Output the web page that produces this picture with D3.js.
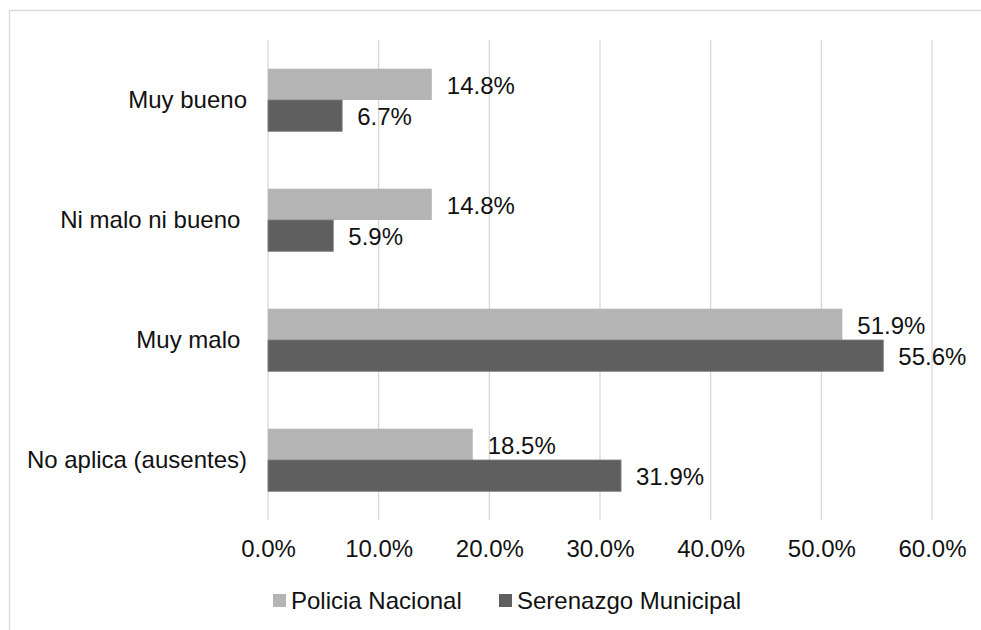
<!DOCTYPE html>
<html>
<head>
<meta charset="utf-8">
<script src="https://cdn.jsdelivr.net/npm/d3@7"></script>
<style>
  html, body { margin: 0; padding: 0; background: #fff; }
  svg { display: block; }
  text { font-family: "Liberation Sans", Arial, sans-serif; fill: #111; }
</style>
</head>
<body>
<svg id="chart" width="981" height="630"></svg>
<script>
const categories = ["Muy bueno", "Ni malo ni bueno ", "Muy malo ", "No aplica (ausentes)"];
const seriesNames = ["Policia Nacional", "Serenazgo Municipal"];
const policiaValues = [14.8, 14.8, 51.9, 18.5];
const serenazgoValues = [6.7, 5.9, 55.6, 31.9];
const tickValues = [0, 10, 20, 30, 40, 50, 60];
const colors = ["#b4b4b4", "#5f5f5f"];

const seriesValues = [policiaValues, serenazgoValues];
const data = categories.map((c, i) => ({ cat: c, vals: seriesValues.map(s => s[i]) }));

const svg = d3.select("#chart");
const W = 981, H = 630;
const plotLeft = 268, plotRight = 932, plotTop = 40, plotBottom = 520;

// frame (left & top lines)
svg.append("line").attr("x1", 9.5).attr("x2", 9.5).attr("y1", 10).attr("y2", H)
  .attr("stroke", "#d9d9d9").attr("stroke-width", 1.3);
svg.append("line").attr("x1", 9).attr("x2", W).attr("y1", 10.5).attr("y2", 10.5)
  .attr("stroke", "#d9d9d9").attr("stroke-width", 1.3);

const x = d3.scaleLinear().domain([0, 60]).range([plotLeft, plotRight]);
const y = d3.scaleBand().domain(categories).range([plotTop, plotBottom])
  .paddingInner(0.478).paddingOuter(0.239);
const ySub = d3.scaleBand().domain(d3.range(seriesNames.length)).range([0, y.bandwidth()]).padding(0);

// gridlines
svg.append("g").selectAll("line").data(tickValues).join("line")
  .attr("x1", d => x(d)).attr("x2", d => x(d))
  .attr("y1", plotTop).attr("y2", plotBottom)
  .attr("stroke", "#d9d9d9").attr("stroke-width", 1.3);

// x axis labels
const xAxis = d3.axisBottom(x).tickValues(tickValues).tickSize(0).tickFormat(d => d.toFixed(1) + "%");
const gx = svg.append("g").attr("transform", `translate(0,${plotBottom})`).call(xAxis);
gx.select(".domain").remove();
gx.selectAll("text").attr("font-size", 24).attr("fill", "#111").attr("y", 0).attr("dy", 37)
  .style("font-family", '"Liberation Sans", Arial, sans-serif');

// y axis labels
const yAxis = d3.axisLeft(y).tickSize(0).tickPadding(0);
const gy = svg.append("g").attr("transform", `translate(247,0)`).call(yAxis);
gy.select(".domain").remove();
gy.selectAll("text").attr("font-size", 24).attr("fill", "#111").attr("x", 0).attr("dy", "0.32em")
  .style("white-space", "pre")
  .style("font-family", '"Liberation Sans", Arial, sans-serif');

// bars
const groups = svg.append("g").selectAll("g").data(data).join("g")
  .attr("transform", d => `translate(0,${y(d.cat)})`);
groups.selectAll("rect").data(d => d.vals.map((v, i) => ({ v, i }))).join("rect")
  .attr("x", x(0))
  .attr("y", d => ySub(d.i))
  .attr("width", d => x(d.v) - x(0))
  .attr("height", ySub.bandwidth())
  .attr("fill", d => colors[d.i])
  .attr("stroke", d => d.i === 1 ? "#808080" : "none")
  .attr("stroke-width", 0.8);

groups.selectAll("text").data(d => d.vals.map((v, i) => ({ v, i }))).join("text")
  .attr("x", d => x(d.v) + 15)
  .attr("y", d => ySub(d.i) + ySub.bandwidth() / 2 + 9.5)
  .attr("font-size", 24)
  .text(d => d.v.toFixed(1) + "%");

// legend
const legend = svg.append("g");
const legendX = [273, 499];
seriesNames.forEach((name, i) => {
  legend.append("rect").attr("x", legendX[i]).attr("y", 594).attr("width", 13).attr("height", 13)
    .attr("fill", colors[i]);
  legend.append("text").attr("x", legendX[i] + 18).attr("y", 608.5).attr("font-size", 24).text(name);
});
</script>
</body>
</html>
